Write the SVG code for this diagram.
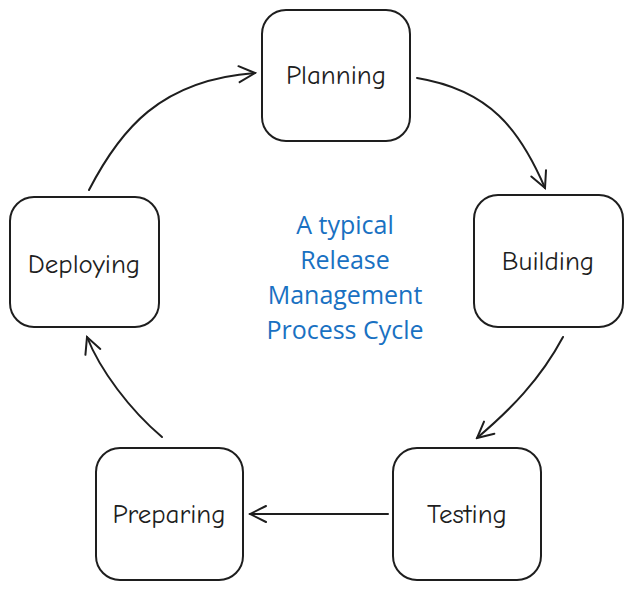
<svg xmlns="http://www.w3.org/2000/svg" width="632" height="589" viewBox="0 0 632 589">
<style>
.n{fill:#fff;stroke:#1e1e1e;stroke-width:2}
.t{font-family:"Comic Neue","Open Sans","Liberation Sans",sans-serif;font-size:27px;fill:#1e1e1e;text-anchor:middle;dominant-baseline:central}
.c{fill:none;stroke:#1e1e1e;stroke-width:2;stroke-linecap:round}
.b{font-family:"Open Sans","Liberation Sans",sans-serif;font-size:25px;fill:#1971c2;text-anchor:middle}
</style>
<defs><marker id="a" viewBox="0 0 20 20" refX="18" refY="10" markerWidth="20" markerHeight="20" markerUnits="userSpaceOnUse" orient="auto"><path d="M2 2 L18 10 L2 18" fill="none" stroke="#1e1e1e" stroke-width="2" stroke-linecap="round"/></marker></defs>
<rect width="632" height="589" fill="#fff"/>
<g id="connectors">
<path class="c" marker-end="url(#a)" d="M89 190 C120 130 160 80 255 73"/>
<path class="c" marker-end="url(#a)" d="M417 78 C490 90 520 130 545 188"/>
<path class="c" marker-end="url(#a)" d="M563 337 C540 380 510 410 477 438"/>
<path class="c" marker-end="url(#a)" d="M388 514 L250 514"/>
<path class="c" marker-end="url(#a)" d="M162 437 C130 410 100 370 87 337"/>
</g>
<g id="planning"><rect class="n" x="262" y="10" width="148" height="131" rx="24"/><text class="t" x="336" y="75">Planning</text></g>
<g id="building"><rect class="n" x="474" y="195" width="149" height="132" rx="24"/><text class="t" x="548" y="261">Building</text></g>
<g id="testing"><rect class="n" x="393" y="448" width="148" height="132" rx="24"/><text class="t" x="467" y="514">Testing</text></g>
<g id="preparing"><rect class="n" x="96" y="448" width="147" height="132" rx="24"/><text class="t" x="169" y="514">Preparing</text></g>
<g id="deploying"><rect class="n" x="10" y="197" width="149" height="130" rx="24"/><text class="t" x="84" y="264">Deploying</text></g>
<g id="title"><text class="b" x="345" y="234">A typical</text><text class="b" x="345" y="269">Release</text><text class="b" x="345" y="304">Management</text><text class="b" x="345" y="339">Process Cycle</text></g>
</svg>
